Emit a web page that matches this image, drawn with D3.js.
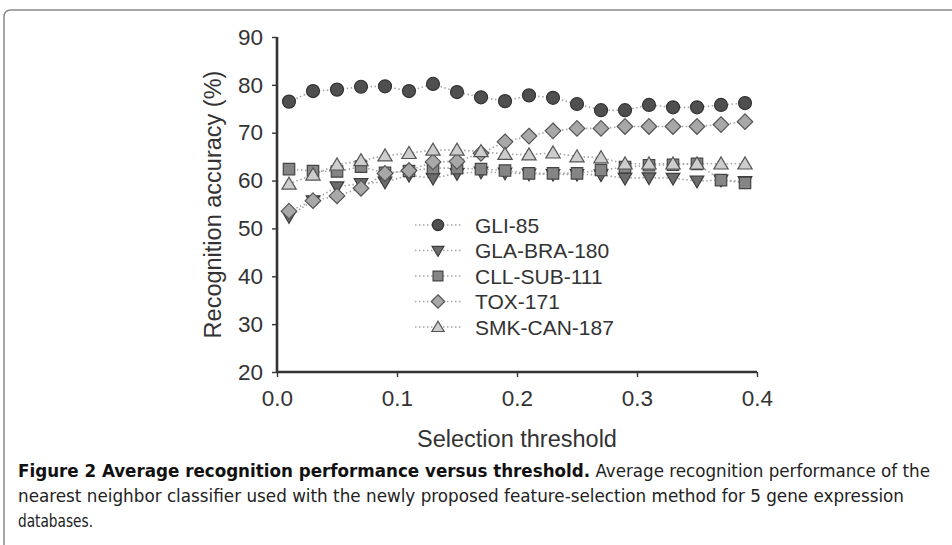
<!DOCTYPE html>
<html><head><meta charset="utf-8">
<script src="https://cdn.jsdelivr.net/npm/d3@7"></script>
<style>
html,body{margin:0;padding:0;background:#fff;}
svg{display:block;}
</style></head>
<body>
<svg id="chart" width="952" height="545"></svg>
<script>
const thresholds = [0.01,0.03,0.05,0.07,0.09,0.11,0.13,0.15,0.17,0.19,0.21,0.23,0.25,0.27,0.29,0.31,0.33,0.35,0.37,0.39];
const gli85   = [76.5,78.7,79.0,79.6,79.7,78.7,80.2,78.5,77.4,76.6,77.8,77.3,76.0,74.7,74.7,75.8,75.3,75.3,75.8,76.2];
const glaBra180 = [52.5,55.8,58.7,59.4,59.7,61.1,60.5,61.5,61.8,61.6,61.4,61.3,61.3,61.2,60.5,60.6,60.5,59.9,60.1,59.8];
const cllSub111 = [62.4,62.0,61.9,62.9,61.6,62.0,62.6,62.6,62.4,62.1,61.5,61.5,61.5,62.2,62.8,63.2,63.3,63.5,60.1,59.5];
const tox171  = [53.6,55.8,56.8,58.4,61.5,62.1,63.9,64.0,65.7,68.1,69.3,70.4,70.9,70.9,71.3,71.3,71.3,71.3,71.7,72.3];
const smkCan187 = [59.3,61.2,63.3,64.2,65.2,65.7,66.4,66.4,66.1,65.5,65.4,65.8,65.0,64.8,63.5,63.5,63.5,63.5,63.5,63.5];
const seriesNames = ["GLI-85","GLA-BRA-180","CLL-SUB-111","TOX-171","SMK-CAN-187"];
const xTicks = [0,0.1,0.2,0.3,0.4];
const yTicks = [20,30,40,50,60,70,80,90];
const xLabel = "Selection threshold";
const yLabel = "Recognition accuracy (%)";
const captionBold = "Figure 2 Average recognition performance versus threshold.";
const captionLines = [
  " Average recognition performance of the",
  "nearest neighbor classifier used with the newly proposed feature-selection method for 5 gene expression",
  "databases."
];

const seriesValues = [gli85, glaBra180, cllSub111, tox171, smkCan187];
const styles = [
  {shape:"circle",  fill:"#4f4f4f", stroke:"#333"},
  {shape:"tridown", fill:"#6c6c6c", stroke:"#3d3d3d"},
  {shape:"square",  fill:"#858585", stroke:"#444"},
  {shape:"diamond", fill:"#a8a8a8", stroke:"#555"},
  {shape:"triup",   fill:"#cdcdcd", stroke:"#555"}
];

function shapePath(shape, s){
  switch(shape){
    case "circle": return `M${-s},0A${s},${s} 0 1,0 ${s},0A${s},${s} 0 1,0 ${-s},0Z`;
    case "tridown": return `M${-s*1.05},${-s*0.75}L${s*1.05},${-s*0.75}L0,${s*1.05}Z`;
    case "square": return `M${-s*0.88},${-s*0.88}H${s*0.88}V${s*0.88}H${-s*0.88}Z`;
    case "diamond": return `M0,${-s*1.2}L${s*1.2},0L0,${s*1.2}L${-s*1.2},0Z`;
    case "triup": return `M${-s*1.1},${s*0.8}L${s*1.1},${s*0.8}L0,${-s*1.05}Z`;
  }
}

const svg = d3.select("#chart");
const FONT = "'Liberation Sans', Arial, Helvetica, sans-serif";

// frame
svg.append("path").attr("d","M4,545 L4,17 Q4,10 11,10 L952,10")
  .attr("fill","none").attr("stroke","#8a8a8a").attr("stroke-width",1.5);

const x = d3.scaleLinear().domain([0,0.4]).range([277,757]);
const y = d3.scaleLinear().domain([20,90]).range([372,37]);

const textColor = "#333";

// y axis
const gy = svg.append("g").attr("transform",`translate(${x(0)},0)`)
  .call(d3.axisLeft(y).tickValues(yTicks).tickSize(5).tickPadding(9).tickFormat(d3.format("d")));
// x axis
const gx = svg.append("g").attr("transform",`translate(0,${y(20)})`)
  .call(d3.axisBottom(x).tickValues(xTicks).tickSize(5).tickPadding(13).tickFormat(d3.format(".1f")));
[gx,gy].forEach(g=>{
  g.select(".domain").attr("stroke","#333").attr("stroke-width",2.6);
  g.selectAll(".tick line").attr("stroke","#333").attr("stroke-width",1.4);
  g.selectAll("text").attr("font-family",FONT).attr("font-size",22.5).attr("fill",textColor);
});
gy.select(".domain").attr("d",`M0,${y(90)}V${y(20)}`);
gx.select(".domain").attr("d",`M${x(0)},0H${x(0.4)}`);

// axis titles
svg.append("text").attr("x",(x(0)+x(0.4))/2).attr("y",447)
  .attr("text-anchor","middle").attr("font-family",FONT).attr("font-size",23.5)
  .attr("fill",textColor).text(xLabel);
svg.append("text").attr("transform",`translate(221,${(y(20)+y(90))/2}) rotate(-90)`)
  .attr("text-anchor","middle").attr("font-family",FONT).attr("font-size",23.5)
  .attr("fill",textColor).text(yLabel);

// series lines
const line = d3.line().x((d,i)=>x(thresholds[i])).y(d=>y(d));
seriesValues.forEach((vals,k)=>{
  svg.append("path").attr("d",line(vals)).attr("fill","none")
    .attr("stroke","#a5a5a5").attr("stroke-width",1.6).attr("stroke-dasharray","1.5,2.5");
});
// markers
seriesValues.forEach((vals,k)=>{
  const st = styles[k];
  svg.append("g").selectAll("path").data(vals).join("path")
    .attr("transform",(d,i)=>`translate(${x(thresholds[i])},${y(d)})`)
    .attr("d",shapePath(st.shape,6.5))
    .attr("fill",st.fill).attr("stroke",st.stroke).attr("stroke-width",1.2);
});

// legend
const legend = svg.append("g");
const legY = d3.scalePoint().domain(seriesNames).range([225,327]);
seriesNames.forEach((name,k)=>{
  const st = styles[k];
  const yy = legY(name);
  legend.append("line").attr("x1",415).attr("x2",463).attr("y1",yy).attr("y2",yy)
    .attr("stroke","#a5a5a5").attr("stroke-width",1.6).attr("stroke-dasharray","1.5,2.5");
  legend.append("path").attr("transform",`translate(438,${yy})`).attr("d",shapePath(st.shape,5.6))
    .attr("fill",st.fill).attr("stroke",st.stroke).attr("stroke-width",1.2);
  legend.append("text").attr("x",475).attr("y",yy+7.5).attr("font-family",FONT)
    .attr("font-size",21).attr("fill",textColor).text(name);
});

// caption
const CAP = "'Liberation Sans Narrow','DejaVu Sans Condensed','Open Sans',sans-serif";
const t1 = svg.append("text").attr("x",18).attr("y",477).attr("font-family",CAP).attr("font-size",18)
  .attr("fill","#222").attr("textLength",912).attr("lengthAdjust","spacingAndGlyphs");
t1.append("tspan").attr("font-weight","bold").attr("fill","#111").text(captionBold);
t1.append("tspan").text(captionLines[0]);
svg.append("text").attr("x",18).attr("y",502).attr("font-family",CAP).attr("font-size",18)
  .attr("fill","#222").attr("textLength",886).attr("lengthAdjust","spacingAndGlyphs").text(captionLines[1]);
svg.append("text").attr("x",18).attr("y",527).attr("font-family",CAP).attr("font-size",18)
  .attr("fill","#222").attr("textLength",75).attr("lengthAdjust","spacingAndGlyphs").text(captionLines[2]);
</script>
</body></html>
